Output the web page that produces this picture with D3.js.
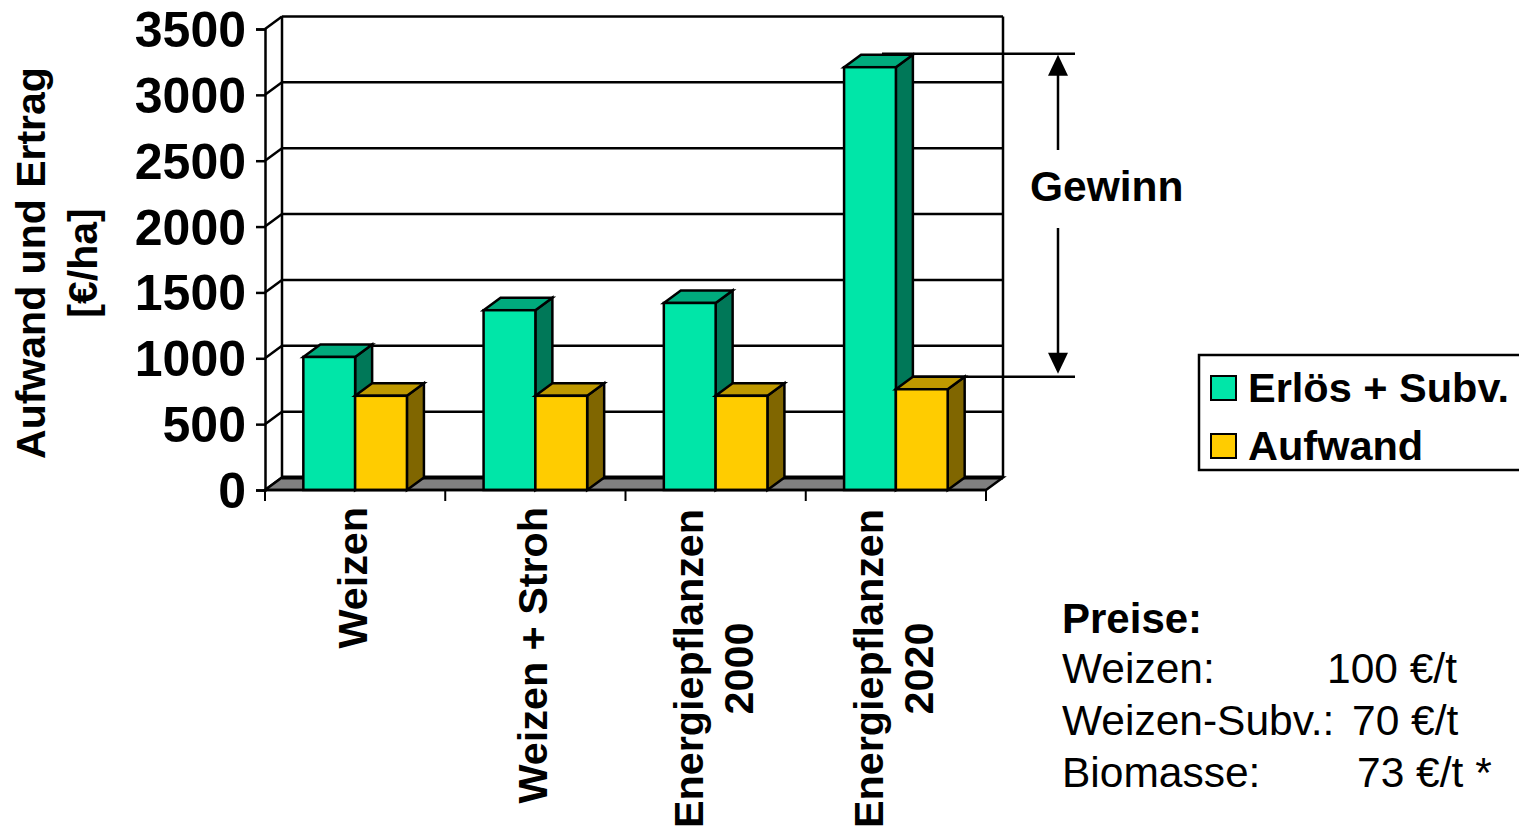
<!DOCTYPE html>
<html>
<head>
<meta charset="utf-8">
<script src="https://cdn.jsdelivr.net/npm/d3@7"></script>
<style>
html,body{margin:0;padding:0;background:#fff;overflow:hidden;}
text{font-family:"Liberation Sans",Arial,sans-serif;fill:#000;}
</style>
</head>
<body>
<script>
//DATA
var categories=[["Weizen"],["Weizen + Stroh"],["Energiepflanzen","2000"],["Energiepflanzen","2020"]];
var erloes=[1010,1365,1420,3210];
var aufwand=[715,715,715,765];
var seriesNames=["Erlös + Subv.","Aufwand"];
var yTicks=[0,500,1000,1500,2000,2500,3000,3500];
var yTitle=["Aufwand und Ertrag","[€/ha]"];
var gewinnLabel="Gewinn";
var preiseTitle="Preise:";
var preiseNames=["Weizen:","Weizen-Subv.:","Biomasse:"];
var preiseValues=["100 €/t","70 €/t","73 €/t *"];

//SVG VARIABLES
var width=1519,height=830;
var depthX=17,depthY=-12.5; //3d offset of the back wall
var left=265,right=986,bottom=490,top3500=29;
var lw=2.5;

var front=["#00e6a8","#ffcc00"];
var topc=["#00ab7d","#bf9900"];
var sidec=["#007858","#806600"];

var svg=d3.select("body").append("svg").attr("width",width).attr("height",height);

var y=d3.scaleLinear().domain([0,3500]).range([bottom,top3500]);
var x=d3.scaleBand().domain(d3.range(categories.length)).range([left,right]);
var x1=d3.scaleBand().domain(d3.range(seriesNames.length)).range([0,x.bandwidth()]).paddingOuter(0.74);

function poly(g,pts,fill){
	return g.append("polygon").attr("points",pts.map(function(p){return p.join(",");}).join(" "))
		.attr("fill",fill).attr("stroke","#000").attr("stroke-width",lw).attr("stroke-linejoin","miter");
}
function line(g,x1_,y1_,x2_,y2_,w){
	return g.append("line").attr("x1",x1_).attr("y1",y1_).attr("x2",x2_).attr("y2",y2_).attr("stroke","#000").attr("stroke-width",w||lw);
}

//WALLS AND GRID
var wall=svg.append("g").attr("id","wall");
yTicks.forEach(function(t){
	if(t>0) line(wall,left+depthX,y(t)+depthY,right+depthX,y(t)+depthY);
	line(wall,left,y(t),left+depthX,y(t)+depthY);
});
line(wall,left+depthX,y(0)+depthY,left+depthX,y(3500)+depthY);
line(wall,right+depthX,y(0)+depthY,right+depthX,y(3500)+depthY);
poly(wall,[[left,bottom],[left+depthX,bottom+depthY],[right+depthX,bottom+depthY],[right,bottom]],"#808080");
line(wall,left+depthX,bottom+depthY,right+depthX,bottom+depthY,4);

//GEWINN GUIDES (behind the bars)
var guide=svg.append("g").attr("id","guide");
var arrowX=1058,guideEnd=1075;
var topGuide=y(erloes[3])+depthY-1,lowGuide=y(aufwand[3])+depthY;
line(guide,left+depthX+600,topGuide,guideEnd,topGuide);
line(guide,left+depthX+600,lowGuide,guideEnd,lowGuide);
line(guide,arrowX,topGuide+20,arrowX,150);
line(guide,arrowX,228,arrowX,lowGuide-22);
guide.append("path").attr("d",d3.line()([[arrowX,topGuide+1],[arrowX-10,topGuide+22],[arrowX+10,topGuide+22]])+"Z").attr("fill","#000");
guide.append("path").attr("d",d3.line()([[arrowX,lowGuide-3],[arrowX-10,lowGuide-24],[arrowX+10,lowGuide-24]])+"Z").attr("fill","#000");
svg.append("text").attr("x",1030).attr("y",201).attr("font-size",42.5).attr("font-weight","bold").text(gewinnLabel);

//BARS
var bars=svg.append("g").attr("id","bars");
categories.forEach(function(c,i){
	[erloes[i],aufwand[i]].forEach(function(v,s){
		var x0=x(i)+x1(s),x2=x0+x1.bandwidth(),yt=y(v),yb=y(0);
		poly(bars,[[x2,yb],[x2+depthX,yb+depthY],[x2+depthX,yt+depthY],[x2,yt]],sidec[s]);
		poly(bars,[[x0,yt],[x0+depthX,yt+depthY],[x2+depthX,yt+depthY],[x2,yt]],topc[s]);
		bars.append("rect").attr("x",x0).attr("y",yt).attr("width",x2-x0).attr("height",yb-yt)
			.attr("fill",front[s]).attr("stroke","#000").attr("stroke-width",lw);
	});
});

//AXES
var yAxis=svg.append("g").attr("transform","translate("+left+",0)")
	.call(d3.axisLeft(y).tickValues(yTicks).tickFormat(d3.format("d")).tickSize(9).tickPadding(10));
yAxis.selectAll("path,line").attr("stroke","#000").attr("stroke-width",lw);
yAxis.selectAll("text").attr("font-size",50).attr("font-weight","bold").attr("font-family",'"Liberation Sans"').attr("fill","#000").attr("dy","0.35em");

line(svg,left,bottom,right,bottom);
d3.range(categories.length+1).forEach(function(i){
	line(svg,left+i*x.step(),bottom,left+i*x.step(),bottom+11,2);
});

//CATEGORY LABELS
var catSize=41.3;
categories.forEach(function(c,i){
	var cx=x(i)+x.bandwidth()/2;
	if(c.length==1){
		svg.append("text").attr("transform","translate("+(cx+12)+",507) rotate(-90)")
			.attr("text-anchor","end").attr("font-size",catSize).attr("font-weight","bold").text(c[0]);
	}else{
		svg.append("text").attr("transform","translate("+(cx-13)+",668.5) rotate(-90)")
			.attr("text-anchor","middle").attr("font-size",catSize).attr("font-weight","bold").text(c[0]);
		svg.append("text").attr("transform","translate("+(cx+37)+",668.5) rotate(-90)")
			.attr("text-anchor","middle").attr("font-size",catSize).attr("font-weight","bold").text(c[1]);
	}
});

//Y TITLE
[45,97].forEach(function(px,i){
	svg.append("text").attr("transform","translate("+px+",263) rotate(-90)")
		.attr("text-anchor","middle").attr("font-size",41).attr("font-weight","bold").text(yTitle[i]);
});

//LEGEND
var legend=svg.append("g").attr("id","legend");
legend.append("rect").attr("x",1199).attr("y",355).attr("width",340).attr("height",115)
	.attr("fill","#fff").attr("stroke","#000").attr("stroke-width",lw);
seriesNames.forEach(function(n,i){
	var ly=376+i*58;
	legend.append("rect").attr("x",1211).attr("y",ly).attr("width",25).attr("height",24)
		.attr("fill",front[i]).attr("stroke","#000").attr("stroke-width",2);
	legend.append("text").attr("x",1248).attr("y",ly+26).attr("font-size",41.5).attr("font-weight","bold").text(n);
});

//PREISE
var preisX=[1327,1352,1357];
svg.append("text").attr("x",1062).attr("y",633).attr("font-size",42).attr("font-weight","bold").text(preiseTitle);
preiseNames.forEach(function(n,i){
	var py=683+i*52;
	svg.append("text").attr("x",1062).attr("y",py).attr("font-size",42.5).text(n);
	svg.append("text").attr("x",preisX[i]).attr("y",py).attr("font-size",42.5).text(preiseValues[i]);
});
</script>
</body>
</html>
